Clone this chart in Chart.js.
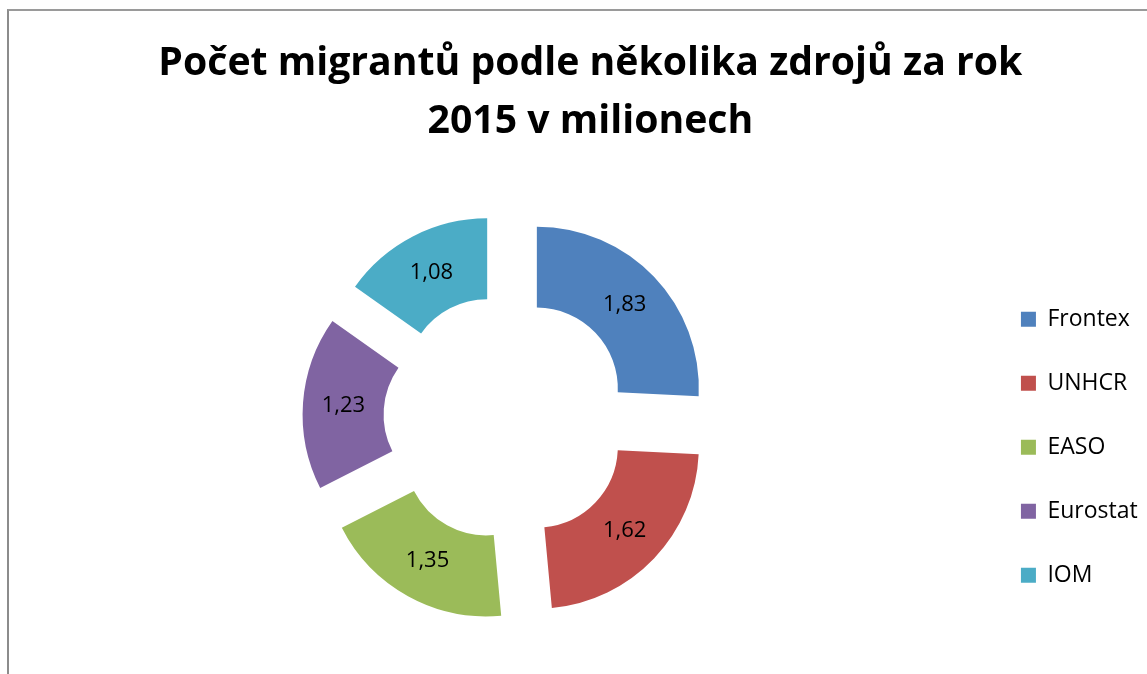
<!DOCTYPE html>
<html>
<head>
<meta charset="utf-8">
<script src="https://cdn.jsdelivr.net/npm/chart.js@4.4.0/dist/chart.umd.min.js"></script>
<style>
  html, body { margin: 0; padding: 0; background: #fff; overflow: hidden; }
  body { width: 1147px; height: 674px; position: relative; }
  .frame {
    position: absolute; left: 7px; top: 9px; width: 1160px; height: 680px;
    border-left: 2px solid #8c8c8c; border-top: 2px solid #9a9a9a;
  }
  .chart-box { position: absolute; left: 5px; top: 11px; width: 1155px; height: 663px; }
</style>
</head>
<body>
<div class="frame"></div>
<div class="chart-box"><canvas id="migrantChart"></canvas></div>
<script>
// data
const sources = ['Frontex', 'UNHCR', 'EASO', 'Eurostat', 'IOM'];
const migrants = [1.83, 1.62, 1.35, 1.23, 1.08]; // millions, 2015
const sliceColors = ['#4F81BD', '#C0504D', '#9BBB59', '#8064A2', '#4BACC6'];
const titleLines = ['Počet migrantů podle několika zdrojů za rok', '2015 v milionech'];

const FONT = '"Open Sans", "Liberation Sans", sans-serif';
const EXPLODE = 168; // dataset offset, pieces move offset/4 outwards

// draw the exploded pieces ourselves so every piece keeps the same radius
// (chart.js grows the narrow pieces a bit when offset is set)
const evenExplode = {
    id: 'evenExplode',
    beforeDatasetDraw(chart, args) {
        const ctx = chart.ctx;
        const meta = args.meta;
        const shift = EXPLODE / 4;
        meta.data.forEach(arc => {
            const mid = (arc.startAngle + arc.endAngle) / 2;
            const saved = arc.options;
            arc.options = Object.assign({}, saved, { offset: 0 });
            ctx.save();
            ctx.translate(Math.cos(mid) * shift, Math.sin(mid) * shift);
            arc.draw(ctx);
            ctx.restore();
            arc.options = saved;
        });
        return false;
    }
};

// value labels in the middle of each ring piece
const sliceLabels = {
    id: 'sliceLabels',
    afterDatasetsDraw(chart) {
        const ctx = chart.ctx;
        const meta = chart.getDatasetMeta(0);
        ctx.save();
        ctx.font = '22px ' + FONT;
        ctx.fillStyle = '#000';
        ctx.textAlign = 'center';
        ctx.textBaseline = 'middle';
        meta.data.forEach((arc, i) => {
            const mid = (arc.startAngle + arc.endAngle) / 2;
            const r = (arc.innerRadius + arc.outerRadius) / 2 + EXPLODE / 4;
            const txt = migrants[i].toFixed(2).replace('.', ',');
            ctx.fillText(txt, arc.x + Math.cos(mid) * r, arc.y + Math.sin(mid) * r);
        });
        ctx.restore();
    }
};

const ctx1 = document.getElementById('migrantChart').getContext('2d');
const migrantChart = new Chart(ctx1, {
    type: 'doughnut',
    data: {
        labels: sources,
        datasets: [{
            data: migrants,
            backgroundColor: sliceColors,
            borderWidth: 0,
            offset: EXPLODE
        }]
    },
    options: {
        responsive: true,
        maintainAspectRatio: false,
        animation: false,
        cutout: '50%',
        layout: { padding: { left: 28, right: 12.3, top: 0, bottom: 10.4 } },
        plugins: {
            title: {
                display: true,
                text: titleLines,
                color: '#000',
                font: { family: FONT, size: 39.2, weight: 'bold', lineHeight: 1.48 },
                padding: { top: 24, bottom: 20.6 }
            },
            legend: {
                position: 'right',
                // empty legend title only pushes the items down
                title: { display: true, text: ' ', font: { size: 10, lineHeight: 22 }, padding: 0 },
                labels: {
                    boxWidth: 15,
                    boxHeight: 15,
                    padding: 41,
                    color: '#000',
                    font: { family: FONT, size: 23 }
                }
            },
            tooltip: { enabled: false }
        }
    },
    plugins: [evenExplode, sliceLabels]
});
</script>
</body>
</html>
